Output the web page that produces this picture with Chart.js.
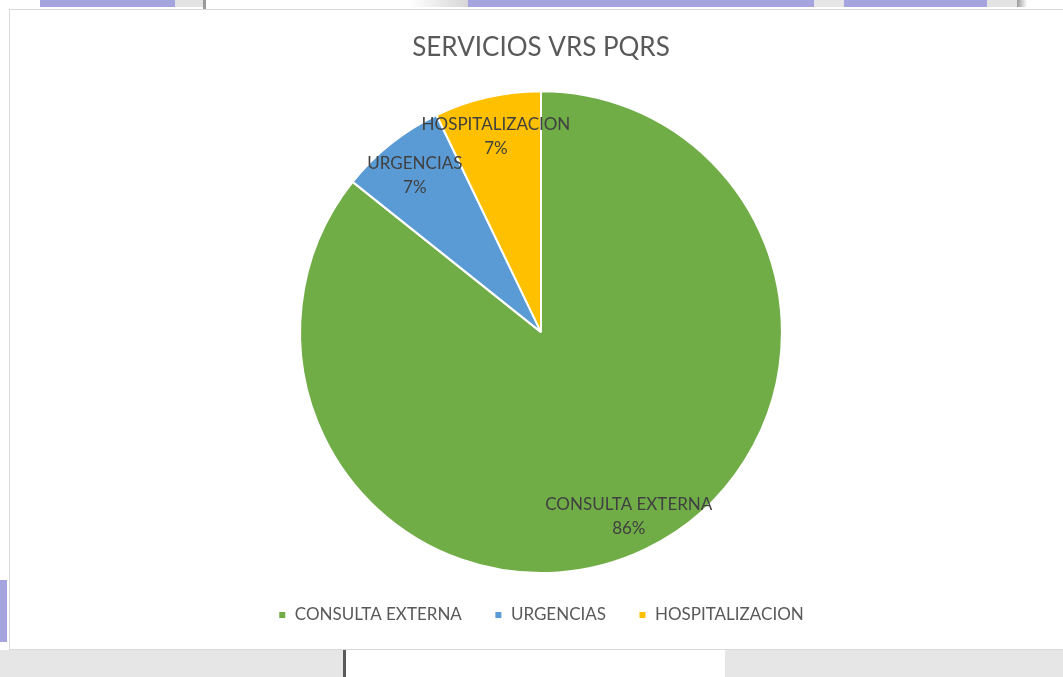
<!DOCTYPE html>
<html>
<head>
<meta charset="utf-8">
<script src="https://cdn.jsdelivr.net/npm/chart.js@4/dist/chart.umd.min.js"></script>
<style>
  html, body { margin: 0; padding: 0; }
  body { width: 1063px; height: 677px; position: relative; overflow: hidden; background: #ffffff; font-family: Lato, sans-serif; }
  .deco { position: absolute; }
  #box { position: absolute; left: 9px; top: 9px; width: 1060px; height: 639px; border: 1px solid #d9d9d9; background: #ffffff; }
  #chartWrap { position: absolute; left: 0; top: 0; width: 1063px; height: 677px; }
</style>
</head>
<body>
<!-- sheet background decorations -->
<div class="deco" style="left:40px;top:0;width:135px;height:7px;background:#a6a4de"></div>
<div class="deco" style="left:175px;top:0;width:28px;height:7px;background:#e3e3e3"></div>
<div class="deco" style="left:203px;top:0;width:3px;height:9px;background:#9a9a9a"></div>
<div class="deco" style="left:410px;top:0;width:58px;height:7px;background:linear-gradient(90deg,#ffffff,#d6d6d6)"></div>
<div class="deco" style="left:468px;top:0;width:346px;height:7px;background:#a6a4de"></div>
<div class="deco" style="left:814px;top:0;width:30px;height:7px;background:#e6e6e6"></div>
<div class="deco" style="left:844px;top:0;width:143px;height:7px;background:#a6a4de"></div>
<div class="deco" style="left:987px;top:0;width:30px;height:7px;background:#e3e3e3"></div>
<div class="deco" style="left:1017px;top:0;width:10px;height:7px;background:linear-gradient(90deg,#999,#fff)"></div>
<div class="deco" style="left:0;top:580px;width:7px;height:62px;background:#a6a4de"></div>
<div class="deco" style="left:0;top:650px;width:1063px;height:27px;background:#e6e6e6"></div>
<div class="deco" style="left:343px;top:650px;width:3px;height:27px;background:#5a5a5a"></div>
<div class="deco" style="left:346px;top:650px;width:379px;height:27px;background:#ffffff"></div>
<div id="box"></div>
<div id="chartWrap"><canvas id="c" width="1063" height="677"></canvas></div>
<script>
const categories = ['CONSULTA EXTERNA', 'URGENCIAS', 'HOSPITALIZACION'];
const values = [12, 1, 1];
const colors = ['#70AD47', '#5B9BD5', '#FFC000'];
const titleText = 'SERVICIOS VRS PQRS';

const labelPlugin = {
  id: 'sliceLabels',
  afterDatasetsDraw(chart) {
    const ctx = chart.ctx;
    const meta = chart.getDatasetMeta(0);
    const data = chart.data.datasets[0].data;
    const total = data.reduce((a, b) => a + b, 0);
    ctx.save();
    ctx.font = '17px Lato, sans-serif';
    ctx.fillStyle = '#404040';
    ctx.textAlign = 'center';
    ctx.textBaseline = 'middle';
    meta.data.forEach((arc, i) => {
      const p = arc.getProps(['x', 'y', 'startAngle', 'endAngle', 'outerRadius'], true);
      const mid = (p.startAngle + p.endAngle) / 2;
      const r = p.outerRadius * 0.84;
      const x = p.x + Math.cos(mid) * r;
      const y = p.y + Math.sin(mid) * r;
      const pct = Math.round(data[i] / total * 100) + '%';
      ctx.fillText(chart.data.labels[i], x, y - 10);
      ctx.fillText(pct, x, y + 14);
    });
    ctx.restore();
  }
};

new Chart(document.getElementById('c'), {
  type: 'pie',
  data: {
    labels: categories,
    datasets: [{
      data: values,
      backgroundColor: colors,
      borderColor: '#ffffff',
      borderWidth: 2
    }]
  },
  options: {
    responsive: false,
    animation: false,
    layout: { padding: { left: 19, right: 0, top: 0, bottom: 43.5 } },
    plugins: {
      title: {
        display: true,
        text: titleText,
        color: '#595959',
        font: { family: 'Lato, sans-serif', size: 26, weight: 'normal' },
        padding: { top: 32, bottom: 27 }
      },
      legend: {
        position: 'bottom',
        labels: {
          color: '#595959',
          font: { family: 'Lato, sans-serif', size: 17 },
          boxWidth: 8,
          boxHeight: 8,
          padding: 32.5
        }
      },
      tooltip: { enabled: false }
    }
  },
  plugins: [labelPlugin]
});
</script>
</body>
</html>
